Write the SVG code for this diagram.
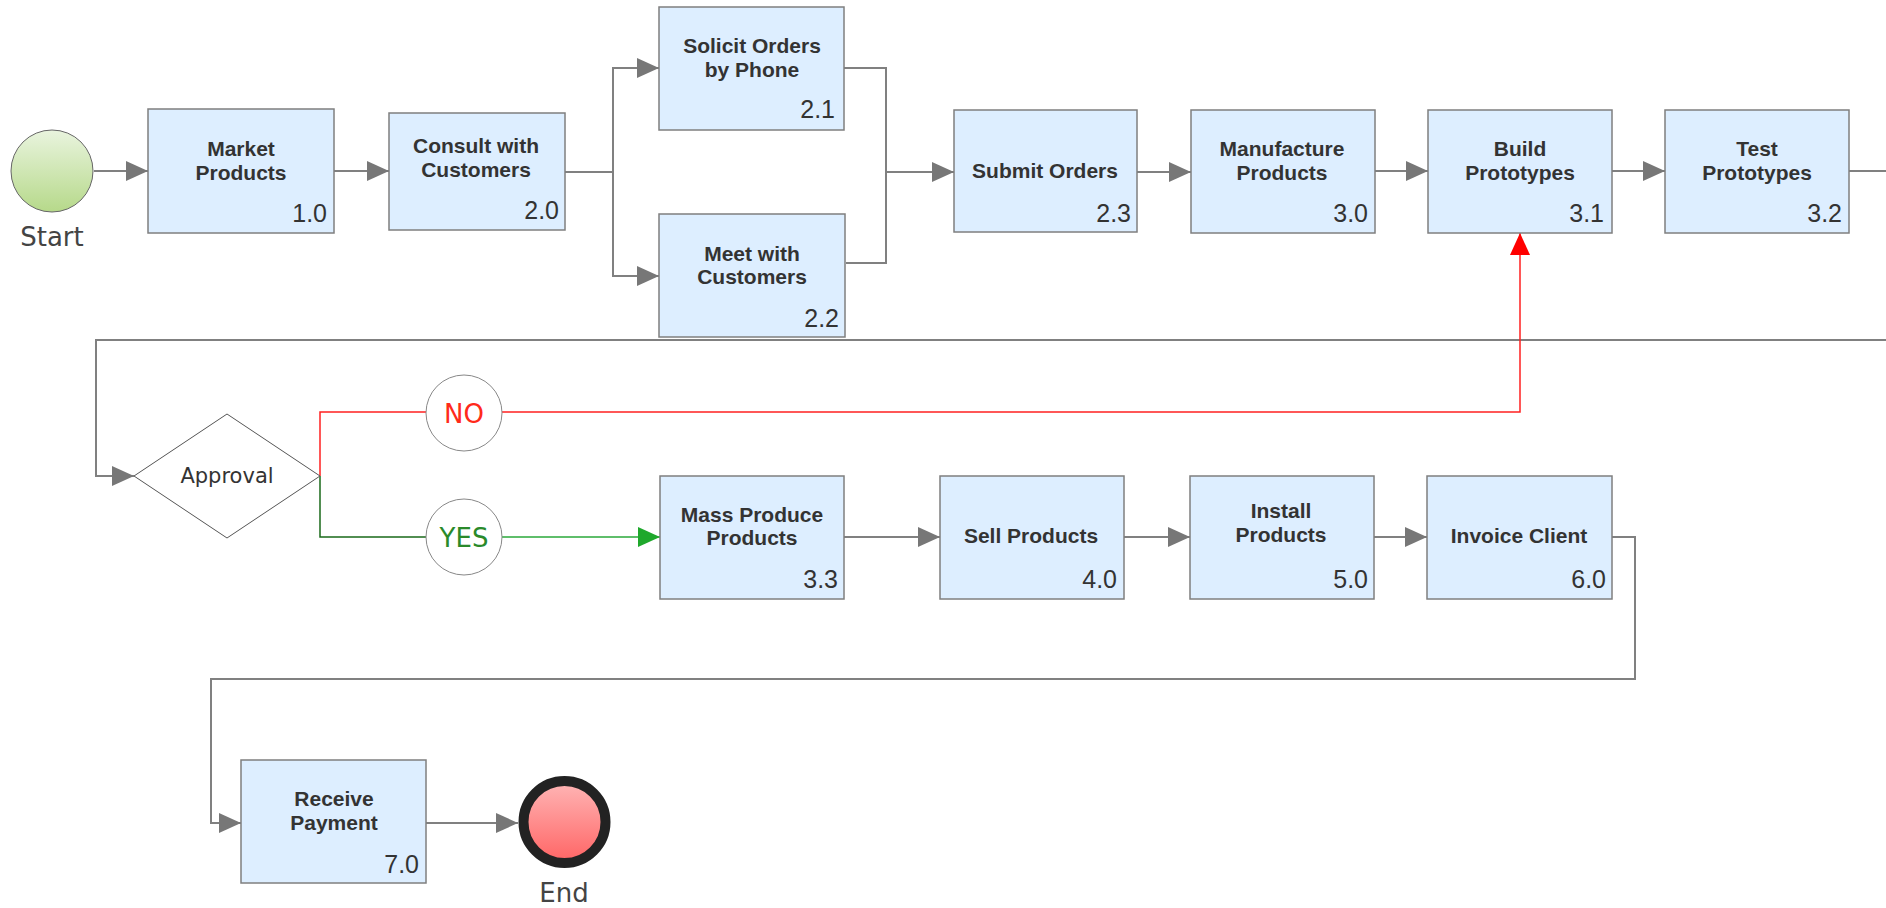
<svg xmlns="http://www.w3.org/2000/svg" width="1886" height="908" viewBox="0 0 1886 908">
<style>
.box{fill:#ddeeff;stroke:#7f7f7f;stroke-width:1.5}
.lbl{font-family:"Liberation Sans",Arial,sans-serif;font-weight:bold;font-size:21px;fill:#333;text-anchor:middle}
.num{font-family:"Liberation Sans",Arial,sans-serif;font-size:25px;fill:#333;text-anchor:end}
.cap{font-family:"DejaVu Sans",Verdana,sans-serif;font-size:26px;fill:#444;text-anchor:middle}
.con{fill:none;stroke:#808080;stroke-width:2}
</style>
<defs>
<linearGradient id="gStart" x1="0" y1="0" x2="0" y2="1"><stop offset="0" stop-color="#e9f4de"/><stop offset="1" stop-color="#b6d98a"/></linearGradient>
<linearGradient id="gEnd" x1="0" y1="0" x2="0" y2="1"><stop offset="0" stop-color="#ffb6b6"/><stop offset="1" stop-color="#ff6464"/></linearGradient>
<marker id="ah" viewBox="0 0 22 22" refX="22" refY="11" markerWidth="22" markerHeight="22" markerUnits="userSpaceOnUse" orient="auto"><path d="M0,1 L22,11 L0,21 z" fill="#777"/></marker>
<marker id="ahR" viewBox="0 0 22 22" refX="22" refY="11" markerWidth="22" markerHeight="22" markerUnits="userSpaceOnUse" orient="auto"><path d="M0,1 L22,11 L0,21 z" fill="#ff0000"/></marker>
<marker id="ahG" viewBox="0 0 22 22" refX="22" refY="11" markerWidth="22" markerHeight="22" markerUnits="userSpaceOnUse" orient="auto"><path d="M0,1 L22,11 L0,21 z" fill="#1fa82c"/></marker>
</defs>
<rect width="1886" height="908" fill="#ffffff"/>

<g id="connectors">
<path class="con" d="M94 171 H148" marker-end="url(#ah)"/>
<path class="con" d="M334 171 H389" marker-end="url(#ah)"/>
<path class="con" d="M565 172 H613 V68 H659" marker-end="url(#ah)"/>
<path class="con" d="M613 172 V276 H659" marker-end="url(#ah)"/>
<path class="con" d="M844 68 H886 V172 H954" marker-end="url(#ah)"/>
<path class="con" d="M846 263 H886 V172"/>
<path class="con" d="M1137 172 H1191" marker-end="url(#ah)"/>
<path class="con" d="M1375 171 H1428" marker-end="url(#ah)"/>
<path class="con" d="M1612 171 H1665" marker-end="url(#ah)"/>
<path class="con" d="M1849 171 H1900 V340 H96 V476 H134" marker-end="url(#ah)"/>
<path fill="none" stroke="#ff2020" stroke-width="1.5" d="M320 476 V412 H426"/>
<path fill="none" stroke="#ff2020" stroke-width="1.5" d="M502 412 H1520 V233" marker-end="url(#ahR)"/>
<path fill="none" stroke="#1a6a1a" stroke-width="1.5" d="M320 476 V537 H426"/>
<path fill="none" stroke="#2aa83a" stroke-width="1.5" d="M502 537 H660" marker-end="url(#ahG)"/>
<path class="con" d="M844 537 H940" marker-end="url(#ah)"/>
<path class="con" d="M1124 537 H1190" marker-end="url(#ah)"/>
<path class="con" d="M1374 537 H1427" marker-end="url(#ah)"/>
<path class="con" d="M1612 537 H1635 V679 H211 V823 H241" marker-end="url(#ah)"/>
<path class="con" d="M426 823 H518" marker-end="url(#ah)"/>
</g>

<g id="start">
<circle cx="52" cy="171" r="41" fill="url(#gStart)" stroke="#666" stroke-width="1"/>
<text class="cap" x="52" y="246">Start</text>
</g>

<g id="n1"><rect class="box" x="148" y="109" width="186" height="124"/><text class="lbl" x="241" y="156">Market</text><text class="lbl" x="241" y="180">Products</text><text class="num" x="327" y="222">1.0</text></g>
<g id="n2"><rect class="box" x="389" y="113" width="176" height="117"/><text class="lbl" x="476" y="153">Consult with</text><text class="lbl" x="476" y="177">Customers</text><text class="num" x="559" y="219">2.0</text></g>
<g id="n21"><rect class="box" x="659" y="7" width="185" height="123"/><text class="lbl" x="752" y="53">Solicit Orders</text><text class="lbl" x="752" y="77">by Phone</text><text class="num" x="835" y="118">2.1</text></g>
<g id="n22"><rect class="box" x="659" y="214" width="186" height="123"/><text class="lbl" x="752" y="261">Meet with</text><text class="lbl" x="752" y="284">Customers</text><text class="num" x="839" y="327">2.2</text></g>
<g id="n23"><rect class="box" x="954" y="110" width="183" height="122"/><text class="lbl" x="1045" y="178">Submit Orders</text><text class="num" x="1131" y="222">2.3</text></g>
<g id="n3"><rect class="box" x="1191" y="110" width="184" height="123"/><text class="lbl" x="1282" y="156">Manufacture</text><text class="lbl" x="1282" y="180">Products</text><text class="num" x="1368" y="222">3.0</text></g>
<g id="n31"><rect class="box" x="1428" y="110" width="184" height="123"/><text class="lbl" x="1520" y="156">Build</text><text class="lbl" x="1520" y="180">Prototypes</text><text class="num" x="1604" y="222">3.1</text></g>
<g id="n32"><rect class="box" x="1665" y="110" width="184" height="123"/><text class="lbl" x="1757" y="156">Test</text><text class="lbl" x="1757" y="180">Prototypes</text><text class="num" x="1842" y="222">3.2</text></g>

<g id="approval">
<polygon points="134,476 227,414 320,476 227,538" fill="#ffffff" stroke="#555" stroke-width="1"/>
<text class="cap" x="227" y="483" font-size="21" style="font-size:21px;fill:#333">Approval</text>
</g>
<g id="no">
<circle cx="464" cy="413" r="38" fill="#ffffff" stroke="#888" stroke-width="1"/>
<text class="cap" x="464" y="423" style="fill:#ff2a1a">NO</text>
</g>
<g id="yes">
<circle cx="464" cy="537" r="38" fill="#ffffff" stroke="#888" stroke-width="1"/>
<text class="cap" x="464" y="547" style="fill:#2a8a2a">YES</text>
</g>

<g id="n33"><rect class="box" x="660" y="476" width="184" height="123"/><text class="lbl" x="752" y="522">Mass Produce</text><text class="lbl" x="752" y="545">Products</text><text class="num" x="838" y="588">3.3</text></g>
<g id="n4"><rect class="box" x="940" y="476" width="184" height="123"/><text class="lbl" x="1031" y="543">Sell Products</text><text class="num" x="1117" y="588">4.0</text></g>
<g id="n5"><rect class="box" x="1190" y="476" width="184" height="123"/><text class="lbl" x="1281" y="518">Install</text><text class="lbl" x="1281" y="542">Products</text><text class="num" x="1368" y="588">5.0</text></g>
<g id="n6"><rect class="box" x="1427" y="476" width="185" height="123"/><text class="lbl" x="1519" y="543">Invoice Client</text><text class="num" x="1606" y="588">6.0</text></g>
<g id="n7"><rect class="box" x="241" y="760" width="185" height="123"/><text class="lbl" x="334" y="806">Receive</text><text class="lbl" x="334" y="830">Payment</text><text class="num" x="419" y="873">7.0</text></g>

<g id="end">
<circle cx="564.5" cy="822" r="41" fill="url(#gEnd)" stroke="#222" stroke-width="10"/>
<text class="cap" x="564" y="902">End</text>
</g>
</svg>
